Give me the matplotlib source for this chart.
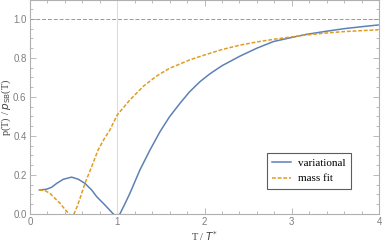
import numpy as np
import matplotlib.pyplot as plt
from matplotlib.ticker import MultipleLocator

# variational curve
T_var = [0.107, 0.19, 0.248, 0.306, 0.382, 0.477, 0.554, 0.63, 0.707, 0.764, 0.859, 0.955, 0.99,
         1.03, 1.08, 1.145, 1.26, 1.375, 1.49, 1.60, 1.72, 1.83, 1.95, 2.06, 2.20, 2.41, 2.60,
         2.79, 3.00, 3.17, 3.40, 3.60, 3.80, 3.99]
p_var = [0.123, 0.127, 0.137, 0.157, 0.178, 0.189, 0.178, 0.157, 0.123, 0.089, 0.046, 0.0, -0.01,
         0.0, 0.045, 0.106, 0.226, 0.328, 0.422, 0.499, 0.568, 0.627, 0.679, 0.718, 0.760, 0.810, 0.850,
         0.884, 0.905, 0.921, 0.937, 0.950, 0.960, 0.969]

# mass fit curve
T_mf = [0.107, 0.17, 0.229, 0.286, 0.344, 0.40, 0.45, 0.477, 0.504, 0.54, 0.573, 0.63, 0.707, 0.78,
        0.85, 0.916, 1.00, 1.145, 1.30, 1.45, 1.60, 1.83, 2.00, 2.20, 2.41, 2.60, 2.80, 3.00, 3.17,
        3.40, 3.60, 3.80, 3.99]
p_mf = [0.123, 0.12, 0.106, 0.080, 0.055, 0.024, 0.0, -0.01, 0.0, 0.038, 0.080, 0.157, 0.243, 0.328,
        0.385, 0.431, 0.508, 0.585, 0.655, 0.707, 0.747, 0.790, 0.815, 0.843, 0.866, 0.882, 0.896, 0.908,
        0.918, 0.928, 0.935, 0.940, 0.944]

blue = '#5E81B5'
orange = '#E19C24'
grey = '#7f7f7f'

fig = plt.figure(figsize=(3.82, 2.45), dpi=100)
ax = fig.add_axes([30 / 382, 31 / 245, 349 / 382, 214 / 245])

ax.axhline(1.0, color='#999999', lw=0.7, ls=(0, (4, 2)))
ax.axvline(1.0, color='#dddddd', lw=0.8)

ax.plot(T_var, p_var, color=blue, lw=1.1, label='variational')
ax.plot(T_mf, p_mf, color=orange, lw=1.1, ls=(0, (2.5, 1.2)), label='mass fit')

ax.set_xlim(0, 4)
ax.set_ylim(0, 1.097)
ax.xaxis.set_major_locator(MultipleLocator(1))
ax.xaxis.set_minor_locator(MultipleLocator(0.2))
ax.yaxis.set_major_locator(MultipleLocator(0.2))
ax.yaxis.set_minor_locator(MultipleLocator(0.05))
ax.set_xticks([0, 1, 2, 3, 4])
ax.set_xticklabels(['0', '1', '2', '3', '4'])
ax.set_yticks([0.0, 0.2, 0.4, 0.6, 0.8, 1.0])
ax.set_yticklabels(['0.0', '0.2', '0.4', '0.6', '0.8', '1.0'])
ax.tick_params(which='both', direction='in', top=True, right=True, color='#b0b0b0',
               labelcolor=grey, labelsize=7, width=0.6)
ax.tick_params(which='major', length=4, pad=2.5)
ax.tick_params(which='minor', length=2)
for lab in ax.get_xticklabels() + ax.get_yticklabels():
    lab.set_family('Liberation Sans')
for s in ax.spines.values():
    s.set_color('#b0b0b0')
    s.set_linewidth(0.8)

ax.set_xlabel('T / $T^{*}$', family='Liberation Serif', fontsize=7.5, color='#444444', labelpad=1)
ax.set_ylabel(r'p(T) / $p_{\rm SB}$(T)', family='Liberation Serif', fontsize=7.5, color='#444444')
ax.yaxis.set_label_coords(-0.048, 0.5)

leg = ax.legend(loc='lower right', bbox_to_anchor=(0.92, 0.117), frameon=True, fancybox=False,
                edgecolor='#333333', prop={'family': 'Liberation Serif', 'size': 8},
                handlelength=1.7, handletextpad=0.6, borderpad=0.5, labelspacing=0.5,
                borderaxespad=0)
leg.get_frame().set_linewidth(0.8)

fig.savefig('out.png', dpi=100)
